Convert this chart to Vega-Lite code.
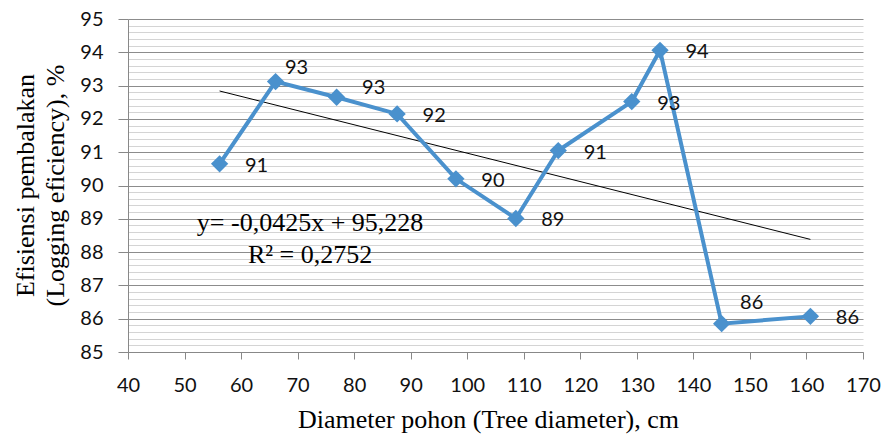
{
  "$schema": "https://vega.github.io/schema/vega-lite/v6.json",
  "width": 735,
  "height": 333,
  "autosize": {"type": "none"},
  "padding": {"left": 128, "top": 19, "right": 20, "bottom": 89},
  "background": "white",
  "config": {"view": {"stroke": null}},
  "datasets": {
    "pts": [
      {"d": 56.2, "eff": 90.65},
      {"d": 66.1, "eff": 93.12},
      {"d": 76.9, "eff": 92.65},
      {"d": 87.6, "eff": 92.15},
      {"d": 98.0, "eff": 90.2},
      {"d": 108.6, "eff": 89.01},
      {"d": 116.1, "eff": 91.05},
      {"d": 129.1, "eff": 92.52},
      {"d": 134.1, "eff": 94.06},
      {"d": 145.0, "eff": 85.85},
      {"d": 160.7, "eff": 86.07}
    ],
    "eq": [
      {"d": 72.2, "eff": 88.63, "t": "y= -0,0425x + 95,228"},
      {"d": 72.2, "eff": 87.67, "t": "R² = 0,2752"}
    ]
  },
  "layer": [
    {
      "data": {"name": "pts"},
      "transform": [{"regression": "eff", "on": "d"}],
      "mark": {"type": "line", "color": "black", "strokeWidth": 1},
      "encoding": {
        "x": {
          "field": "d", "type": "quantitative",
          "scale": {"domain": [40, 170], "nice": false, "zero": false},
          "axis": {
            "values": [40, 50, 60, 70, 80, 90, 100, 110, 120, 130, 140, 150, 160, 170],
            "tickCount": 50,
            "grid": false,
            "tickColor": "#888888", "tickSize": 7,
            "domainColor": "#888888",
            "labelFont": "Lato", "labelFontSize": 20, "labelColor": "#111111",
            "labelPadding": 16, "labelFlush": false, "labelOverlap": false,
            "title": "Diameter pohon (Tree diameter), cm",
            "titleFont": "Liberation Serif", "titleFontSize": 26, "titleFontWeight": "normal",
            "titleColor": "black", "titleX": 360, "titleY": 75, "titleBaseline": "alphabetic", "titleAlign": "center"
          }
        },
        "y": {
          "field": "eff", "type": "quantitative",
          "scale": {"domain": [85, 95], "nice": false, "zero": false},
          "axis": {
            "values": [85, 85.2, 85.4, 85.6, 85.8, 86, 86.2, 86.4, 86.6, 86.8, 87, 87.2, 87.4, 87.6, 87.8, 88, 88.2, 88.4, 88.6, 88.8, 89, 89.2, 89.4, 89.6, 89.8, 90, 90.2, 90.4, 90.6, 90.8, 91, 91.2, 91.4, 91.6, 91.8, 92, 92.2, 92.4, 92.6, 92.8, 93, 93.2, 93.4, 93.6, 93.8, 94, 94.2, 94.4, 94.6, 94.8, 95],
            "tickCount": 100,
            "grid": true,
            "gridColor": {"condition": {"test": "datum.value % 1 === 0", "value": "#8c8c8c"}, "value": "#d4d4d4"},
            "tickSize": 10,
            "tickColor": "#888888",
            "tickOpacity": {"condition": {"test": "datum.value % 1 === 0", "value": 1}, "value": 0},
            "domainColor": "#888888",
            "labelExpr": "datum.value % 1 === 0 ? format(datum.value, 'd') : ''",
            "labelFont": "Lato", "labelFontSize": 20, "labelColor": "#111111",
            "labelPadding": 15, "labelFlush": false, "labelOverlap": false,
            "title": ["Efisiensi pembalakan", "(Logging eficiency), %"],
            "titleFont": "Liberation Serif", "titleFontSize": 26, "titleFontWeight": "normal",
            "titleColor": "black", "titleX": -95, "titleY": 166, "titleAngle": -90,
            "titleBaseline": "alphabetic", "titleAlign": "center", "titleLineHeight": 30
          }
        }
      }
    },
    {
      "data": {"name": "pts"},
      "mark": {"type": "line", "color": "#4a91cd", "strokeWidth": 4, "strokeJoin": "miter"},
      "encoding": {
        "x": {"field": "d", "type": "quantitative"},
        "y": {"field": "eff", "type": "quantitative"}
      }
    },
    {
      "data": {"name": "pts"},
      "mark": {"type": "point", "shape": "diamond", "filled": true, "size": 300, "color": "#4a91cd", "opacity": 1},
      "encoding": {
        "x": {"field": "d", "type": "quantitative"},
        "y": {"field": "eff", "type": "quantitative"}
      }
    },
    {
      "data": {"name": "pts"},
      "transform": [{"filter": "datum.d != 66.1 && datum.d != 76.9 && datum.d != 145"}],
      "mark": {"type": "text", "font": "Lato", "fontSize": 20, "color": "#111111", "dx": 37, "dy": 2, "align": "center", "baseline": "middle"},
      "encoding": {
        "x": {"field": "d", "type": "quantitative"},
        "y": {"field": "eff", "type": "quantitative"},
        "text": {"field": "eff", "type": "quantitative", "format": ".0f"}
      }
    },
    {
      "data": {"name": "pts"},
      "transform": [{"filter": "datum.d == 66.1"}],
      "mark": {"type": "text", "font": "Lato", "fontSize": 20, "color": "#111111", "dx": 21, "dy": -14, "align": "center", "baseline": "middle"},
      "encoding": {
        "x": {"field": "d", "type": "quantitative"},
        "y": {"field": "eff", "type": "quantitative"},
        "text": {"field": "eff", "type": "quantitative", "format": ".0f"}
      }
    },
    {
      "data": {"name": "pts"},
      "transform": [{"filter": "datum.d == 76.9"}],
      "mark": {"type": "text", "font": "Lato", "fontSize": 20, "color": "#111111", "dx": 37, "dy": -9, "align": "center", "baseline": "middle"},
      "encoding": {
        "x": {"field": "d", "type": "quantitative"},
        "y": {"field": "eff", "type": "quantitative"},
        "text": {"field": "eff", "type": "quantitative", "format": ".0f"}
      }
    },
    {
      "data": {"name": "pts"},
      "transform": [{"filter": "datum.d == 145"}],
      "mark": {"type": "text", "font": "Lato", "fontSize": 20, "color": "#111111", "dx": 30, "dy": -21, "align": "center", "baseline": "middle"},
      "encoding": {
        "x": {"field": "d", "type": "quantitative"},
        "y": {"field": "eff", "type": "quantitative"},
        "text": {"field": "eff", "type": "quantitative", "format": ".0f"}
      }
    },
    {
      "data": {"name": "eq"},
      "mark": {"type": "text", "font": "Liberation Serif", "fontSize": 26, "color": "black", "align": "center", "baseline": "alphabetic"},
      "encoding": {
        "x": {"field": "d", "type": "quantitative"},
        "y": {"field": "eff", "type": "quantitative"},
        "text": {"field": "t", "type": "nominal"}
      }
    }
  ]
}
